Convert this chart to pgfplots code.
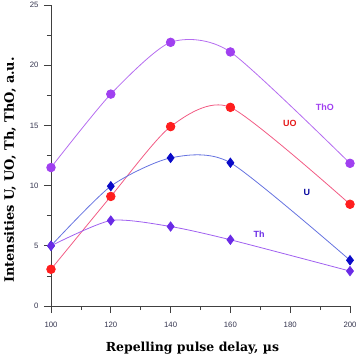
\documentclass[border=0pt]{standalone}
\usepackage{fontspec}
\setmainfont{DejaVu Serif}
\newfontfamily\ticksans{Liberation Sans}
\usepackage{pgfplots}
\pgfplotsset{compat=1.18}

\definecolor{thoclr}{HTML}{A040F0}
\definecolor{tholine}{HTML}{B56CF0}
\definecolor{uoclr}{HTML}{FF1E1E}
\definecolor{uoline}{HTML}{F25C84}
\definecolor{uclr}{HTML}{0A0AC8}
\definecolor{uline}{HTML}{6673E0}
\definecolor{thclr}{HTML}{6A2BE6}
\definecolor{thline}{HTML}{A060F0}
\definecolor{tickclr}{HTML}{34344E}

\begin{document}
\begin{tikzpicture}
\useasboundingbox (-51bp,-52bp) rectangle (308bp,306bp);
\begin{axis}[
  scale only axis, width=299bp, height=301bp,
  at={(0,0)}, anchor=south west,
  xmin=100, xmax=200, ymin=0, ymax=25,
  axis lines*=left,
  axis line style={draw=black!75, line width=0.8pt},
  xtick={100,120,...,200}, minor xtick={110,130,...,190},
  ytick={0,5,...,25}, minor ytick={2.5,7.5,...,22.5},
  tick align=outside,
  major tick length=7bp, minor tick length=4bp,
  tick style={draw=black!75, line width=0.7pt},
  /pgf/number format/assume math mode=true,
  ticklabel style={font=\ticksans\fontsize{7.8}{8}\selectfont, text=tickclr},
  xticklabel style={yshift=-6bp},
  yticklabel style={xshift=-2bp},
  xlabel={\bfseries Repelling pulse delay, µs},
  ylabel={\bfseries Intensities U, UO, Th, ThO, a.u.},
  xlabel style={font=\fontsize{12.5}{14}\selectfont,
    at={(axis description cs:0.473,-0.14)}, anchor=center},
  ylabel style={font=\fontsize{13}{15}\selectfont,
    at={(axis description cs:-0.137,0.452)}, anchor=center},
  clip=false,
]
% ThO
\addplot[smooth, tension=0.42, color=tholine, line width=0.8pt,
  mark=*, mark size=4.3bp, mark options={draw=thoclr, fill=thoclr}]
  coordinates {(100,11.5) (120,17.6) (140,21.9) (160,21.1) (200,11.85)};
% UO
\addplot[smooth, tension=0.42, color=uoline, line width=0.8pt,
  mark=*, mark size=4.3bp, mark options={draw=uoclr, fill=uoclr}]
  coordinates {(100,3.05) (120,9.1) (140,14.9) (160,16.5) (200,8.45)};
% U
\addplot[smooth, tension=0.42, color=uline, line width=0.8pt,
  mark=diamond*, mark size=4.6bp, mark options={draw=uclr, fill=uclr}]
  coordinates {(100,5.0) (120,9.95) (140,12.3) (160,11.9) (200,3.8)};
% Th
\addplot[smooth, tension=0.42, color=thline, line width=0.8pt,
  mark=diamond*, mark size=4.6bp, mark options={draw=thclr, fill=thclr}]
  coordinates {(100,5.0) (120,7.1) (140,6.6) (160,5.5) (200,2.9)};

\node[font=\ticksans\bfseries\fontsize{9}{10}\selectfont, text=thoclr] at (axis cs:191.6,16.5) {ThO};
\node[font=\ticksans\bfseries\fontsize{9}{10}\selectfont, text=uoclr!90!black] at (axis cs:179.9,15.2) {UO};
\node[font=\ticksans\bfseries\fontsize{9}{10}\selectfont, text=uclr!80!black] at (axis cs:185.6,9.4) {U};
\node[font=\ticksans\bfseries\fontsize{9}{10}\selectfont, text=thclr] at (axis cs:169.6,6.0) {Th};
\end{axis}
\end{tikzpicture}
\end{document}
